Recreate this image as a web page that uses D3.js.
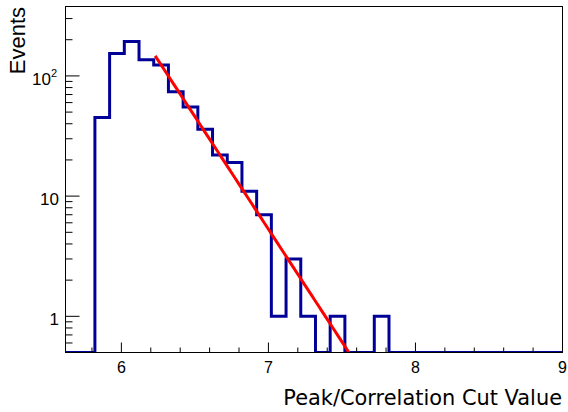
<!DOCTYPE html>
<html><head><meta charset="utf-8">
<script src="https://cdn.jsdelivr.net/npm/d3@7"></script>
<style>body{margin:0;background:#fff}</style>
</head><body><svg id="c" width="568" height="412"></svg>
<script>
// ---- data ----
const binLow = 5.62;
const binWidth = 0.1;
const counts = [0,0,45,154,193,136,123,74,55,36,22,19,11,7,1,3,1,0,1,0,0,1,0,0,0,0,0,0,0,0,0,0,0,0];
const xTicks = [6,7,8,9];
const xTickLabels = ["6","7","8","9"];
const yTicks = [1,10,100];
const yTickLabels = [["1",""],["10",""],["10","2"]];
const fitRange = [6.23, 7.8];
const fitParams = [31.86, -4.313]; // f(x) = exp(p0 + p1*x)
const xTitle = "Peak/Correlation Cut Value";
const yTitle = "Events";

// ---- layout ----
const L = 65.5, R = 562.5, T = 6.5, B = 352.5;
const svg = d3.select("#c");
const x = d3.scaleLinear().domain([5.62, 9.0]).range([L, R]);
const yMin = 0.5;
const y = d3.scaleLog().domain([yMin, 378]).range([B, T]);

svg.append("defs").append("clipPath").attr("id","clip")
  .append("rect").attr("x",L).attr("y",T).attr("width",R-L).attr("height",B-T);

// histogram
const pts = counts.map((c,i)=>[binLow+i*binWidth, Math.max(c,yMin)]);
pts.push([binLow+counts.length*binWidth, Math.max(counts[counts.length-1],yMin)]);
const g = svg.append("g").attr("clip-path","url(#clip)");
g.append("path").datum(pts)
  .attr("d", d3.line().x(d=>x(d[0])).y(d=>y(d[1])).curve(d3.curveStepAfter))
  .attr("fill","none").attr("stroke","#000099").attr("stroke-width",3);

// fit
const fx = d3.range(0,101).map(i=>fitRange[0]+(fitRange[1]-fitRange[0])*i/100);
g.append("path").datum(fx.map(v=>[v, Math.exp(fitParams[0]+fitParams[1]*v)]))
  .attr("d", d3.line().x(d=>x(d[0])).y(d=>y(Math.max(d[1],0.3))))
  .attr("fill","none").attr("stroke","#ff0000").attr("stroke-width",3);

// frame
svg.append("rect").attr("x",L).attr("y",T).attr("width",R-L).attr("height",B-T)
  .attr("fill","none").attr("stroke","#000").attr("stroke-width",1);

// x ticks
const xMinor = d3.range(58,91,2).map(v=>v/10).filter(v=>!xTicks.some(t=>Math.abs(t-v)<1e-6));
svg.append("g").selectAll("line").data(xMinor).join("line")
  .attr("x1",d=>x(d)).attr("x2",d=>x(d)).attr("y1",B).attr("y2",B-5).attr("stroke","#000");
svg.append("g").selectAll("line").data(xTicks).join("line")
  .attr("x1",d=>x(d)).attr("x2",d=>x(d)).attr("y1",B).attr("y2",B-10).attr("stroke","#000");
svg.append("g").selectAll("text").data(xTicks).join("text")
  .attr("x",d=>x(d)).attr("y",372.5).attr("text-anchor","middle")
  .attr("font-family","Liberation Sans, Arial, sans-serif").attr("font-size",16)
  .text((d,i)=>xTickLabels[i]);

// y ticks
const yMinor = [];
[0.1,1,10,100].forEach(dec=>{ for(let k=2;k<=9;k++){ const v=k*dec; if(v>=yMin && v<=378) yMinor.push(v);} });
svg.append("g").selectAll("line").data(yMinor).join("line")
  .attr("x1",L).attr("x2",L+7).attr("y1",d=>y(d)).attr("y2",d=>y(d)).attr("stroke","#000");
svg.append("g").selectAll("line").data(yTicks).join("line")
  .attr("x1",L).attr("x2",L+14).attr("y1",d=>y(d)).attr("y2",d=>y(d)).attr("stroke","#000");
const yl = svg.append("g").selectAll("text").data(yTicks).join("text")
  .attr("x",(d,i)=>yTickLabels[i][1]? 57 : 59).attr("y",d=>y(d)+9)
  .attr("text-anchor","end")
  .attr("font-family","Liberation Sans, Arial, sans-serif").attr("font-size",17);
yl.append("tspan").text((d,i)=>yTickLabels[i][0]);
yl.append("tspan").attr("font-size",11).attr("dy",-8).text((d,i)=>yTickLabels[i][1]);

// titles
const xt = svg.append("text").attr("x",562).attr("y",405).attr("text-anchor","end")
  .attr("font-family","DejaVu Sans, sans-serif").attr("font-size",19).text(xTitle);
const w = xt.node().getComputedTextLength();
xt.attr("font-size", 19*279/w);
svg.append("text").attr("transform","translate(25,7) rotate(-90)").attr("text-anchor","end")
  .attr("font-family","Liberation Sans, Arial, sans-serif").attr("font-size",22).text(yTitle);
</script></body></html>
